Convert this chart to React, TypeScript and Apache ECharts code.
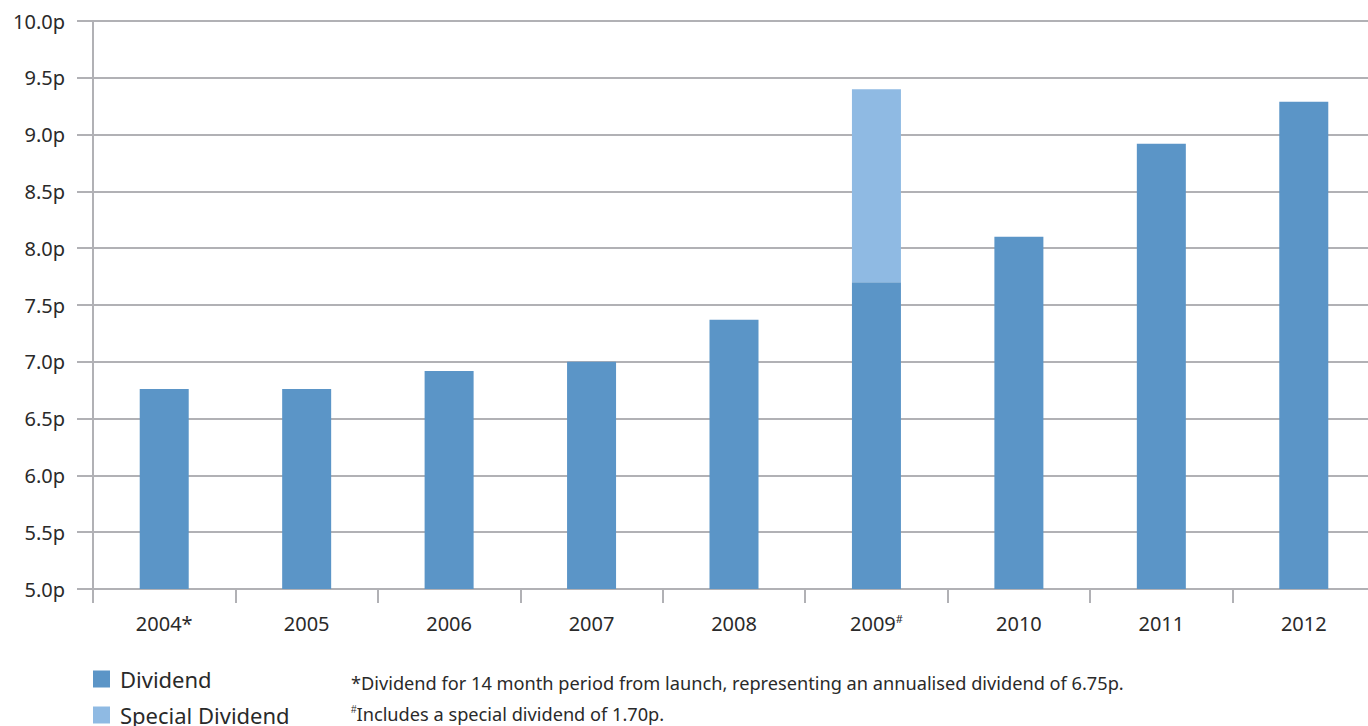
import React, { useEffect, useRef } from "react";
import * as echarts from "echarts";

const categories = ["2004*", "2005", "2006", "2007", "2008", "2009#", "2010", "2011", "2012"];
const dividend = [6.76, 6.76, 6.92, 7.0, 7.37, 7.7, 8.1, 8.92, 9.29];
const special = [null, null, null, null, null, 1.7, null, null, null];
const yTicks = { min: 5, max: 10, interval: 0.5 };
const footnote1 = "*Dividend for 14 month period from launch, representing an annualised dividend of 6.75p.";
const footnote2 = "Includes a special dividend of 1.70p.";

const FONT = "'Noto Sans', sans-serif";
const GRID_COLOR = "#b1b1b5";
const TEXT = "#2a2a2a";

export default function App() {
  const ref = useRef<HTMLDivElement>(null);
  useEffect(() => {
    if (!ref.current) return;
    const chart = echarts.init(ref.current, undefined, { renderer: "svg" });
    const legendBase = {
      orient: "vertical",
      left: 88,
      itemWidth: 17,
      itemHeight: 17,
      icon: "rect",
      textStyle: { fontSize: 22, color: TEXT, fontFamily: FONT, padding: [0, 0, 0, 5] },
    };
    chart.setOption({
      animation: false,
      textStyle: { fontFamily: FONT },
      grid: { left: 93, top: 21, width: 1282, height: 568, containLabel: false },
      legend: [
        { ...legendBase, top: 663, data: ["Dividend"] },
        { ...legendBase, top: 699, data: ["Special Dividend"] },
      ],
      xAxis: {
        type: "category",
        data: categories,
        axisLine: { lineStyle: { color: GRID_COLOR, width: 2 } },
        axisTick: { show: true, length: 14, lineStyle: { color: GRID_COLOR, width: 2 } },
        axisLabel: {
          interval: 0,
          margin: 24,
          fontSize: 20,
          color: TEXT,
          fontFamily: FONT,
          formatter: (v: string) => (v.endsWith("#") ? v.slice(0, -1) + "{sup|#}" : v),
          rich: { sup: { fontSize: 11, verticalAlign: "top", padding: [0, 0, 10, 0], color: TEXT } },
        },
      },
      yAxis: {
        type: "value",
        min: yTicks.min,
        max: yTicks.max,
        interval: yTicks.interval,
        axisLine: { show: true, lineStyle: { color: GRID_COLOR, width: 2 } },
        axisTick: { show: true, length: 16, lineStyle: { color: GRID_COLOR, width: 2 } },
        splitLine: { show: true, lineStyle: { color: GRID_COLOR, width: 2 } },
        axisLabel: {
          margin: 28,
          fontSize: 20,
          color: TEXT,
          fontFamily: FONT,
          formatter: (v: number) => v.toFixed(1) + "p",
        },
      },
      series: [
        {
          name: "Dividend",
          type: "bar",
          stack: "d",
          barWidth: 49,
          data: dividend,
          itemStyle: { color: "#5b95c7" },
        },
        {
          name: "Special Dividend",
          type: "bar",
          stack: "d",
          barWidth: 49,
          data: special,
          itemStyle: { color: "#8fbae3" },
        },
      ],
      graphic: [
        {
          type: "text",
          left: 351,
          top: 674,
          style: { text: footnote1, fontSize: 18.2, fill: TEXT, fontFamily: FONT },
        },
        {
          type: "text",
          left: 351,
          top: 704,
          style: {
            text: "{sup|#}" + footnote2,
            fontSize: 18.2,
            fill: TEXT,
            fontFamily: FONT,
            rich: {
              sup: { fontSize: 10, verticalAlign: "top", padding: [0, 0, 9, 0], fill: TEXT },
            },
          },
        },
      ],
    });
    return () => chart.dispose();
  }, []);
  return (
    <div style={{ position: "fixed", left: 0, top: 0, width: 1368, height: 726, overflow: "hidden", background: "#fff" }}>
      <div ref={ref} style={{ width: 1400, height: 726 }} />
    </div>
  );
}
